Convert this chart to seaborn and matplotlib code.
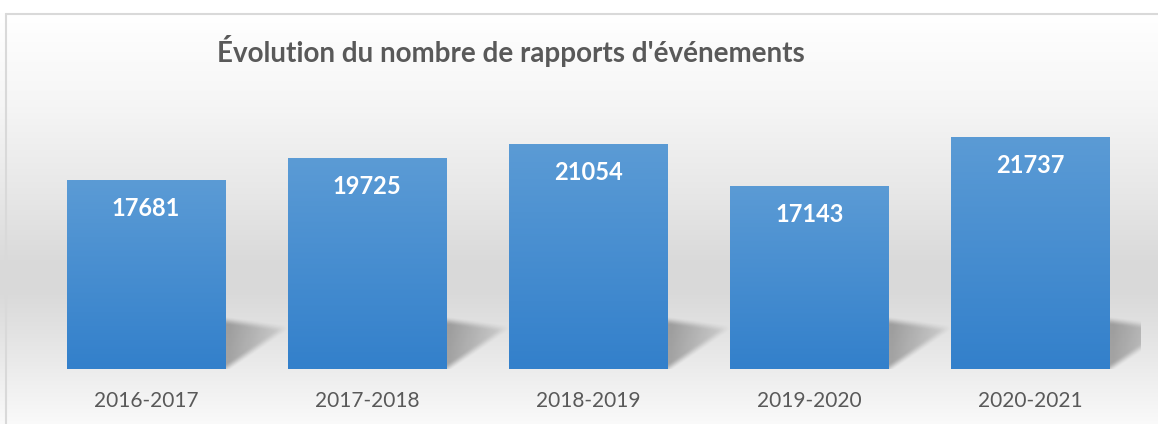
import numpy as np
import matplotlib
matplotlib.use('Agg')
import matplotlib.pyplot as plt
import seaborn as sns
from matplotlib.colors import LinearSegmentedColormap, to_rgb
from matplotlib.lines import Line2D

# data
periodes = ["2016-2017", "2017-2018", "2018-2019", "2019-2020", "2020-2021"]
rapports = [17681, 19725, 21054, 17143, 21737]
titre = "Évolution du nombre de rapports d'événements"

W_PX, H_PX = 1158, 424


def backgroundImage():
    # vertical gray gradient like the Excel chart area
    ys = [0, 13, 100, 200, 260, 290, 330, 369, 424]
    gs = [255, 255, 246, 230, 218, 217, 226, 236, 250]
    col = np.interp(np.arange(H_PX), ys, gs) / 255.0
    img = np.repeat(col[:, None], 8, axis=1)
    return np.dstack([img, img, img])


def shadowMask(nu=70, nv=60):
    # soft triangular perspective shadow, in pixels: (0,0), (0,48), (60,40)
    u = np.linspace(0, 70, nu)[None, :]
    v = np.linspace(0, 60, nv)[:, None]
    top = 48 - u * 8 / 60.0 - v
    bottom = v - u * 40 / 60.0
    def smooth(d, s):
        t = np.clip(d / s + 0.5, 0, 1)
        return t * t * (3 - 2 * t)
    a = smooth(top, 9) * smooth(bottom, 10) * np.clip(1.05 - u / 80.0, 0, 1)
    return a


sns.set_style('white')
plt.rcParams['font.family'] = ['Lato', 'DejaVu Sans']

fig = plt.figure(figsize=(W_PX / 100, H_PX / 100), dpi=100)

bg = fig.add_axes([0, 0, 1, 1], zorder=0)
bg.imshow(backgroundImage(), aspect='auto', extent=[0, 1, 0, 1], interpolation='bilinear')
bg.set_axis_off()

# frame of the chart area (top and left visible)
fig.add_artist(Line2D([5.5 / W_PX, 1], [1 - 13.5 / H_PX] * 2, color='#D9D9D9', lw=1.5))
fig.add_artist(Line2D([5.5 / W_PX] * 2, [0, 1 - 13.5 / H_PX], color='#D9D9D9', lw=1.5))

left = 35.5 / W_PX
bottom = 1 - 369 / H_PX
ax = fig.add_axes([left, bottom, 1105.5 / W_PX, 267 / H_PX], zorder=1)
ax.patch.set_alpha(0)

sns.barplot(x=periodes, y=rapports, ax=ax, width=0.715, color='#4A90D1', saturation=1)

ymax = 25000
px_x = 221.1  # pixels per category
px_y = 267 / ymax

grad = LinearSegmentedColormap.from_list('bleu', [to_rgb('#3380CB'), to_rgb('#5B9BD5')])
mask = shadowMask()
shadow = np.zeros(mask.shape + (4,))
shadow[..., 3] = mask * 0.3

for p, val in zip(ax.patches, rapports):
    x0, w, h = p.get_x(), p.get_width(), p.get_height()
    # shadow behind the bar, to the right
    ax.imshow(shadow, extent=[x0 + w, x0 + w + 70 / px_x, 0, 60 / px_y],
              origin='lower', aspect='auto', zorder=1, interpolation='bilinear')
    # gradient fill clipped to the bar
    g = np.linspace(0, 1, 100)[:, None]
    im = ax.imshow(g, cmap=grad, extent=[x0, x0 + w, 0, h], origin='lower',
                   aspect='auto', zorder=2, interpolation='bilinear')
    im.set_clip_path(p)
    p.set_facecolor('none')
    p.set_edgecolor('none')
    ax.annotate(str(val), (x0 + w / 2, h), xytext=(0, -20.5), textcoords='offset points',
                ha='center', va='center', color='white', fontsize=17, fontweight='bold', zorder=3)

ax.set_xlim(-0.5, len(periodes) - 0.5)
ax.set_ylim(0, ymax)
ax.set_yticks([])
ax.set_xlabel('')
ax.set_ylabel('')
sns.despine(ax=ax, left=True, bottom=True)
ax.tick_params(axis='x', length=0, pad=16, labelsize=15, labelcolor='#595959')

fig.text(511 / W_PX, 1 - 51 / H_PX, titre, ha='center', va='center',
         fontsize=20, fontweight='bold', color='#595959')

fig.savefig('out.png', dpi=100)
